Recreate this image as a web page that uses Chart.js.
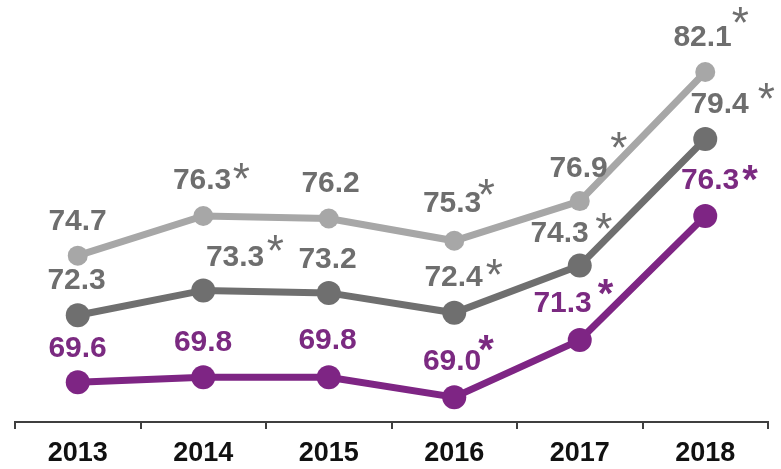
<!DOCTYPE html>
<html>
<head>
<meta charset="utf-8">
<script src="https://cdn.jsdelivr.net/npm/chart.js@4"></script>
<style>
  html, body { margin: 0; padding: 0; background: #ffffff; }
  #wrap { width: 781px; height: 469px; }
</style>
</head>
<body>
<div id="wrap"><canvas id="chart" width="781" height="469"></canvas></div>
<script>
// Survey years
const years = ['2013', '2014', '2015', '2016', '2017', '2018'];

// Index values per group
const upperValues = [74.7, 76.3, 76.2, 75.3, 76.9, 82.1];
const middleValues = [72.3, 73.3, 73.2, 72.4, 74.3, 79.4];
const lowerValues = [69.6, 69.8, 69.8, 69.0, 71.3, 76.3];

// Statistically significant change vs. previous year (marked with *)
const upperSignificant = [false, true, false, true, true, true];
const middleSignificant = [false, true, false, true, true, true];
const lowerSignificant = [false, false, false, true, true, true];

// Label placement relative to each point: [dx, dy] for value, [dx, dy] for asterisk
const upperLabelPos = [[0, -36], [-1, -37], [2, -36], [-2, -39], [-1, -34], [-3, -36]];
const upperStarPos = [null, [38, -45], null, [32, -54], [39, -61], [35, -57]];
const middleLabelPos = [[-1, -36], [32, -34], [-1, -35], [0, -37], [-20, -34], [15, -36]];
const middleStarPos = [null, [72, -47], null, [40, -46], [24, -45], [61, -48]];
const lowerLabelPos = [[0, -35], [0, -36], [-1, -38], [-2, -37], [-17, -38], [5, -37]];
const lowerStarPos = [null, null, null, [32, -54], [26, -53], [45, -43]];

const LIGHT = '#a7a7a7';
const DARK = '#6f6f6f';
const PURPLE = '#7e2584';
const GRAY_TEXT = '#6e6e6e';
const PURPLE_TEXT = '#7b2a81';

const labelSets = [
  { values: upperValues, flags: upperSignificant, pos: upperLabelPos, star: upperStarPos, color: GRAY_TEXT, starFont: '44px "Liberation Sans", Arial, sans-serif' },
  { values: middleValues, flags: middleSignificant, pos: middleLabelPos, star: middleStarPos, color: GRAY_TEXT, starFont: '44px "Liberation Sans", Arial, sans-serif' },
  { values: lowerValues, flags: lowerSignificant, pos: lowerLabelPos, star: lowerStarPos, color: PURPLE_TEXT, starFont: 'bold 40px "Liberation Sans", Arial, sans-serif' }
];

// Draws a glyph so that its visible ink box is centred on (cx, cy)
function drawCentered(ctx, text, cx, cy) {
  ctx.textAlign = 'left';
  ctx.textBaseline = 'alphabetic';
  const m = ctx.measureText(text);
  const left = m.actualBoundingBoxLeft, right = m.actualBoundingBoxRight;
  const asc = m.actualBoundingBoxAscent, desc = m.actualBoundingBoxDescent;
  const x = cx - (right - left) / 2;
  const y = cy + (asc - desc) / 2;
  ctx.fillText(text, x, y);
}

const valueLabels = {
  id: 'valueLabels',
  afterDatasetsDraw(chart) {
    const ctx = chart.ctx;
    ctx.save();
    labelSets.forEach((set, di) => {
      const meta = chart.getDatasetMeta(di);
      meta.data.forEach((pt, i) => {
        const [dx, dy] = set.pos[i];
        ctx.fillStyle = set.color;
        ctx.font = 'bold 30px "Liberation Sans", Arial, sans-serif';
        drawCentered(ctx, set.values[i].toFixed(1), pt.x + dx, pt.y + dy);
        if (set.flags[i] && set.star[i]) {
          const [sx, sy] = set.star[i];
          ctx.font = set.starFont;
          drawCentered(ctx, '*', pt.x + sx, pt.y + sy);
        }
      });
    });
    ctx.restore();
  }
};

new Chart(document.getElementById('chart'), {
  type: 'line',
  data: {
    labels: years,
    datasets: [
      { data: upperValues, borderColor: LIGHT, backgroundColor: LIGHT, borderWidth: 7, pointRadius: 10, pointHoverRadius: 10, pointBorderWidth: 0 },
      { data: middleValues, borderColor: DARK, backgroundColor: DARK, borderWidth: 7, pointRadius: 12, pointHoverRadius: 12, pointBorderWidth: 0 },
      { data: lowerValues, borderColor: PURPLE, backgroundColor: PURPLE, borderWidth: 7, pointRadius: 12, pointHoverRadius: 12, pointBorderWidth: 0 }
    ]
  },
  options: {
    responsive: false,
    animation: false,
    events: [],
    layout: { autoPadding: false, padding: { left: 15, right: 13, top: 0, bottom: 0 } },
    plugins: { legend: { display: false }, tooltip: { enabled: false } },
    scales: {
      y: { display: false, min: 68, max: 85 },
      x: {
        offset: true,
        border: { display: true, color: '#3f3f3f', width: 2 },
        grid: { offset: true, drawOnChartArea: false, drawTicks: true, tickLength: 7, color: '#3f3f3f', lineWidth: 2 },
        ticks: { color: '#111111', padding: 8, font: { family: '"Liberation Sans", Arial, sans-serif', size: 27, weight: 'bold' } },
        afterFit(scale) { scale.height = 47; }
      }
    }
  },
  plugins: [valueLabels]
});
</script>
</body>
</html>
